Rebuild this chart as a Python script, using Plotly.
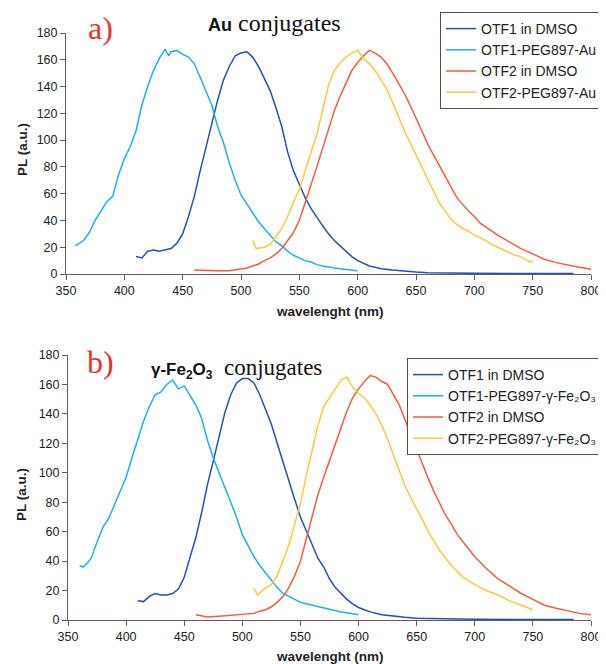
import plotly.graph_objects as go

# ---------------- Panel a (Au conjugates) ----------------
a_otf1_x = [410, 415, 420, 425, 430, 435, 440, 445, 450, 455, 460, 465, 470, 475, 480, 485, 490, 495, 500, 505,
            510, 515, 520, 525, 530, 535, 540, 545, 550, 555, 560, 565, 570, 575, 580, 585, 590, 595, 600, 605,
            610, 615, 620, 630, 640, 650, 660, 680, 700, 740, 785]
a_otf1_y = [13, 12, 17, 18, 17, 18, 19, 23, 30, 43, 58, 77, 95, 112, 130, 145, 155, 163, 165, 166,
            162, 155, 146, 137, 124, 110, 91, 77, 67, 57, 49, 42, 36, 30, 25, 21, 17, 13, 10, 8,
            6, 5, 4, 3, 2, 1.5, 1, 0.5, 0.5, 0.3, 0.3]

a_peg1_x = [358, 362, 365, 370, 375, 380, 385, 390, 395, 400, 405, 410, 415, 420, 425, 430, 435, 438, 440, 445,
            450, 455, 460, 465, 470, 475, 480, 485, 490, 495, 500, 505, 510, 515, 520, 525, 530, 535, 540, 545,
            550, 555, 560, 565, 570, 575, 580, 585, 590, 595, 600]
a_peg1_y = [21, 23, 25, 31, 40, 47, 54, 58, 74, 86, 95, 107, 126, 140, 152, 161, 168, 163, 166, 167,
            164, 162, 157, 147, 137, 126, 110, 98, 83, 70, 59, 52, 45, 39, 34, 29, 24, 21, 17, 14,
            12, 10, 9, 7, 6, 5, 4.5, 4, 3.5, 3, 2.5]

a_otf2_x = [460, 470, 480, 490, 500, 505, 510, 515, 520, 525, 530, 535, 540, 545, 550, 555, 560, 565, 570, 575,
            580, 585, 590, 595, 600, 605, 610, 615, 620, 625, 630, 635, 640, 645, 650, 655, 660, 665, 670, 675,
            680, 685, 690, 695, 700, 705, 710, 715, 720, 730, 740, 750, 760, 770, 780, 790, 800]
a_otf2_y = [3, 2.5, 2.5, 2.5, 3.5, 4.5, 6, 7.5, 10, 12, 15, 19, 25, 31, 40, 53, 66, 80, 94, 108,
            122, 133, 143, 152, 158, 163, 167, 165, 162, 157, 150, 143, 135, 126, 117, 107, 97, 89, 80, 72,
            64, 57, 52, 47, 43, 38, 35, 32, 29, 24, 19, 15, 11, 8.5, 6.5, 5, 3.5]

a_peg2_x = [510, 513, 520, 525, 530, 535, 540, 545, 550, 555, 560, 565, 570, 575, 580, 585, 590, 595, 600, 605,
            610, 615, 620, 625, 630, 635, 640, 645, 650, 655, 660, 665, 670, 675, 680, 685, 690, 695, 700, 705,
            710, 715, 720, 725, 730, 735, 740, 745, 750]
a_peg2_y = [25, 19, 20, 22, 28, 34, 43, 54, 63, 78, 91, 104, 122, 141, 152, 158, 162, 165, 167, 161,
            157, 152, 145, 138, 128, 117, 107, 98, 89, 80, 70, 61, 53, 47, 41, 37, 34, 32, 29, 27,
            25, 22, 20, 18, 16, 14, 13, 10, 9]

# ---------------- Panel b (gamma-Fe2O3 conjugates) ----------------
b_otf1_x = [410, 415, 420, 425, 430, 435, 440, 445, 450, 455, 460, 465, 470, 475, 480, 485, 490, 495, 500, 505,
            510, 515, 520, 525, 530, 535, 540, 545, 550, 555, 560, 565, 570, 575, 580, 585, 590, 595, 600, 605,
            610, 620, 630, 640, 650, 670, 700, 740, 785]
b_otf1_y = [13, 12.5, 16, 18, 17, 17, 18, 21, 29, 42, 56, 73, 92, 108, 125, 141, 153, 161, 164, 164,
            161, 153, 143, 133, 120, 107, 95, 82, 70, 61, 51, 42, 36, 28, 22, 18, 14, 11, 8.5, 7,
            5.5, 3.5, 2.5, 1.8, 1.2, 0.8, 0.5, 0.3, 0.3]

b_peg1_x = [360, 363, 367, 370, 375, 380, 385, 390, 395, 400, 405, 410, 415, 420, 425, 430, 435, 440, 445, 450,
            455, 460, 465, 470, 475, 480, 485, 490, 495, 500, 505, 510, 515, 520, 525, 530, 535, 540, 545, 550,
            555, 560, 565, 570, 575, 580, 585, 590, 595, 600]
b_peg1_y = [37, 36, 39, 42, 53, 63, 69, 78, 88, 97, 110, 123, 135, 145, 153, 155, 160, 163, 157, 159,
            152, 146, 137, 122, 110, 100, 90, 80, 70, 58, 50, 43, 37, 32, 27, 22, 18, 16, 14, 12,
            11, 10, 9, 8, 7, 6, 5.5, 5, 4, 3.5]

b_otf2_x = [460, 470, 480, 490, 500, 510, 515, 520, 525, 530, 535, 540, 545, 550, 555, 560, 565, 570, 575, 580,
            585, 590, 595, 600, 605, 610, 615, 620, 625, 630, 635, 640, 645, 650, 655, 660, 665, 670, 675, 680,
            685, 690, 695, 700, 710, 720, 730, 740, 750, 760, 770, 780, 790, 800]
b_otf2_y = [3.5, 2, 2.5, 3, 4, 4.5, 6, 7, 9, 12, 16, 22, 30, 40, 55, 71, 85, 97, 108, 120,
            131, 142, 151, 157, 162, 166, 165, 162, 160, 153, 146, 136, 126, 116, 105, 96, 87, 79, 71, 65,
            58, 53, 48, 43, 35, 28, 23, 18, 14, 10, 8, 6, 4.5, 3.5]

b_peg2_x = [510, 513, 520, 525, 530, 535, 540, 545, 550, 555, 560, 565, 570, 575, 580, 585, 590, 595, 600, 605,
            610, 615, 620, 625, 630, 635, 640, 645, 650, 655, 660, 665, 670, 675, 680, 685, 690, 700, 710, 720,
            730, 740, 750]
b_peg2_y = [21.5, 17, 22, 24, 30, 40, 51, 65, 79, 98, 114, 132, 145, 151, 157, 163, 165, 158, 154, 151,
            146, 140, 132, 123, 112, 101, 91, 83, 76, 68, 60, 53, 47, 42, 37, 33, 29, 24, 20, 17,
            13, 10, 7]

names_a = ["OTF1 in DMSO", "OTF1-PEG897-Au", "OTF2 in DMSO", "OTF2-PEG897-Au"]
names_b = ["OTF1 in DMSO", "OTF1-PEG897-\u03b3-Fe\u2082O\u2083", "OTF2 in DMSO",
           "OTF2-PEG897-\u03b3-Fe\u2082O\u2083"]
colors = ["#2352b5", "#19b2e2", "#f25c3e", "#fdc83c"]

# The page body has an 8px margin, so the figure is drawn 8px right/down.
OFF = 8
W, H = 606 - OFF, 664 - OFF
# plot area in reference pixels: x 66..591, y 33..620
ML, MR, MT, MB = 66 - OFF, W - (591 - OFF), 33 - OFF, H - (620 - OFF)
PW, PH = W - ML - MR, H - MT - MB


def px2x(px):
    return (px - OFF - ML) / PW


def py2y(py):
    return (H - MB - (py - OFF)) / PH


fig = go.Figure()
series_a = [(a_otf1_x, a_otf1_y), (a_peg1_x, a_peg1_y), (a_otf2_x, a_otf2_y), (a_peg2_x, a_peg2_y)]
series_b = [(b_otf1_x, b_otf1_y), (b_peg1_x, b_peg1_y), (b_otf2_x, b_otf2_y), (b_peg2_x, b_peg2_y)]
for (xs, ys), nm, c in zip(series_a, names_a, colors):
    fig.add_trace(go.Scatter(x=xs, y=ys, name=nm, mode="lines", line=dict(color=c, width=1.5),
                             xaxis="x", yaxis="y", legend="legend"))
for (xs, ys), nm, c in zip(series_b, names_b, colors):
    fig.add_trace(go.Scatter(x=xs, y=ys, name=nm, mode="lines", line=dict(color=c, width=1.5),
                             xaxis="x2", yaxis="y2", legend="legend2"))

axcol = "#6e5a55"
tickfont = dict(family="Liberation Sans, Arial", size=12.5, color="#222222")
xcommon = dict(range=[350, 800], dtick=50, tick0=350, showgrid=False, zeroline=False, showline=True,
               linecolor=axcol, linewidth=1, ticks="outside", ticklen=5, tickcolor=axcol,
               tickfont=tickfont)
ycommon = dict(range=[0, 180], dtick=20, showgrid=False, zeroline=False, showline=True,
               linecolor=axcol, linewidth=1, ticks="outside", ticklen=5, tickcolor=axcol,
               tickfont=tickfont)

ya_dom = [py2y(274), py2y(33)]
yb_dom = [py2y(620), py2y(355)]

legfont = dict(family="Liberation Sans, Arial", size=14, color="#222222")
fig.update_layout(
    width=W, height=H,
    margin=dict(l=ML, r=MR, t=MT, b=MB, autoexpand=False),
    paper_bgcolor="white", plot_bgcolor="white",
    xaxis=dict(**xcommon, domain=[0, 1], anchor="y"),
    yaxis=dict(**ycommon, domain=ya_dom, anchor="x"),
    xaxis2=dict(**xcommon, domain=[px2x(68), 1], anchor="y2"),
    yaxis2=dict(**ycommon, domain=yb_dom, anchor="x2"),
    legend=dict(x=px2x(603), y=py2y(12), xanchor="right", yanchor="top", bgcolor="white",
                bordercolor="#5e4a45", borderwidth=1, font=legfont, itemwidth=30,
                tracegroupgap=0),
    legend2=dict(x=px2x(603), y=py2y(358), xanchor="right", yanchor="top", bgcolor="white",
                 bordercolor="#5e4a45", borderwidth=1, font=legfont, itemwidth=30,
                 tracegroupgap=0),
    showlegend=True,
)

ann = []
# panel labels
ann.append(dict(text="a)", x=px2x(100), y=py2y(28), font=dict(family="Liberation Serif, Times New Roman",
                                                             size=32, color="#e8352b")))
ann.append(dict(text="b)", x=px2x(100), y=py2y(362), font=dict(family="Liberation Serif, Times New Roman",
                                                              size=32, color="#e8352b")))
# panel titles
ann.append(dict(text="<b><span style='font-family:Liberation Sans;font-size:18px'>Au</span></b> conjugates",
                x=px2x(274), y=py2y(23), font=dict(family="Liberation Serif, Times New Roman", size=24,
                                                   color="#111111")))
ann.append(dict(text="<b><span style='font-family:Liberation Sans;font-size:17px'>\u03b3-Fe<sub>2</sub>O"
                     "<sub>3</sub></span></b>  conjugates",
                x=px2x(236), y=py2y(368), font=dict(family="Liberation Serif, Times New Roman", size=23,
                                                    color="#111111")))
# axis titles
for yc in (150, 495):
    ann.append(dict(text="<b>PL (a.u.)</b>", x=px2x(22), y=py2y(yc), textangle=-90,
                    font=dict(family="Liberation Sans, Arial", size=13.5, color="#222222")))
for yc in (311, 656):
    ann.append(dict(text="<b>wavelenght (nm)</b>", x=px2x(330), y=py2y(yc),
                    font=dict(family="Liberation Sans, Arial", size=13.5, color="#222222")))
for a in ann:
    a.update(xref="paper", yref="paper", showarrow=False, xanchor="center", yanchor="middle")
fig.update_layout(annotations=ann)

fig.write_html("out.html")
